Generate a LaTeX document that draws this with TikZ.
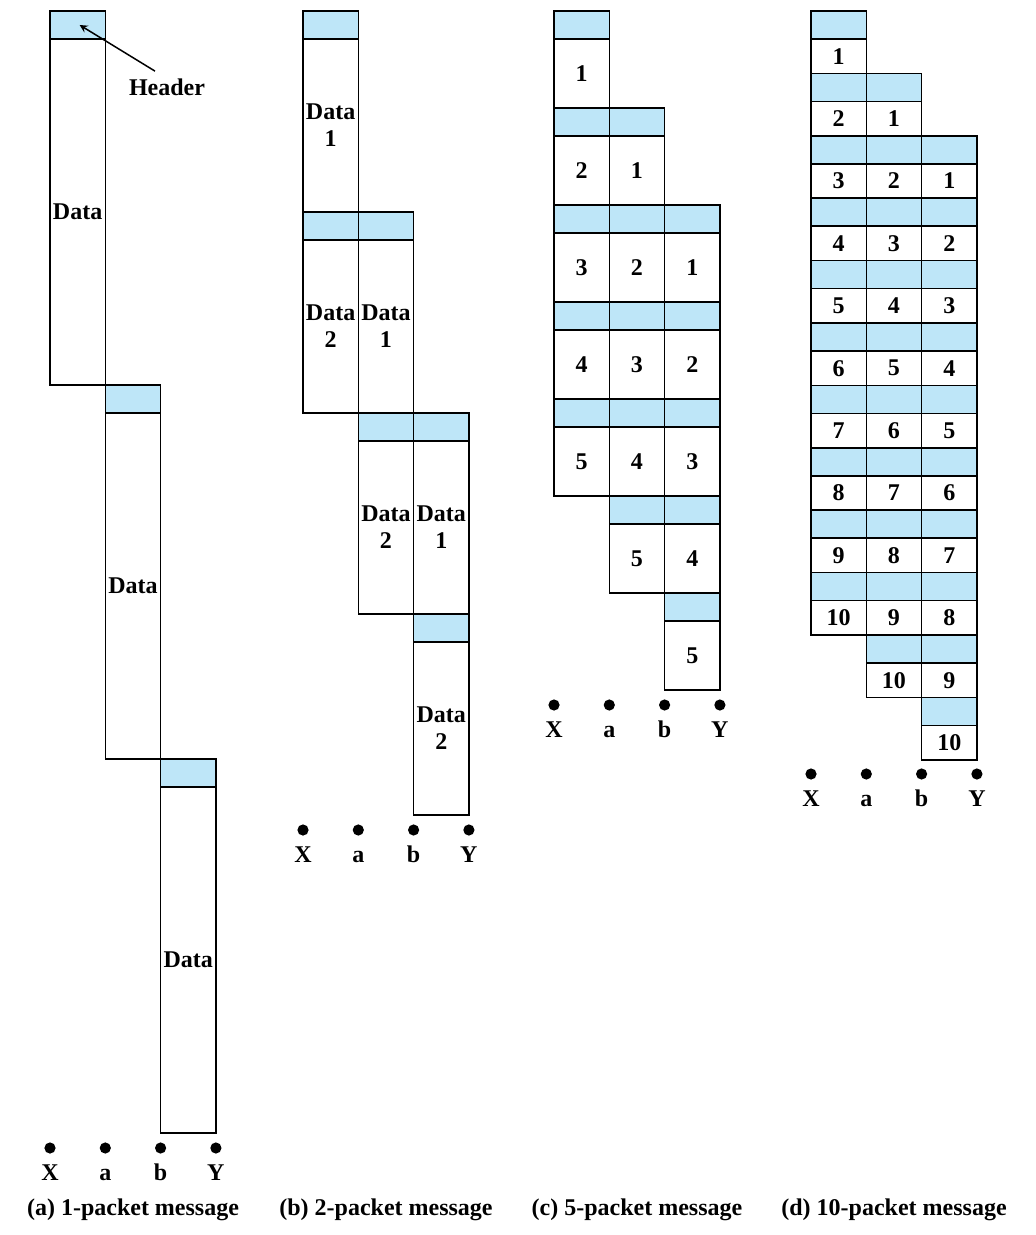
\documentclass[tikz,border=0pt]{standalone}
\usepackage{fontspec}
\setmainfont{Liberation Serif}
\usetikzlibrary{positioning}
\definecolor{hdrblue}{HTML}{BEE6F8}

\newcommand\hosts[3]{%
  \foreach \n [count=\i from 0] in {X,a,b,Y} {
    \node[host] (#1-\n) at ({#2+55.3*\i},#3) {};
    \node[hostlbl, below=4.5pt of #1-\n] {\n};
  }%
}

\begin{document}
\begin{tikzpicture}[x=0.5pt, y=-0.5pt, >=stealth, line width=0.75pt,
  every node/.style={font=\bfseries\fontsize{12}{13.5}\selectfont},
  hdr/.style={draw, fill=hdrblue, anchor=north west, minimum width=27.65pt,
    minimum height=14pt, inner sep=0pt, outer sep=0pt},
  cell/.style={draw, anchor=north west, minimum width=27.65pt,
    inner sep=0pt, outer sep=0pt, align=center},
  host/.style={circle, fill=black, inner sep=0pt, minimum size=5.6pt},
  hostlbl/.style={inner sep=0pt, text height=8pt, text depth=0pt}]
  \useasboundingbox (0,0) rectangle (1035,1235);

  % (a) 1-packet message
  \foreach \t in {0,1,2} {
    \node[hdr] (a-h\t) at ({50+55.3*\t},{11+374*\t}) {};
    \node[cell, minimum height=173pt] (a-d\t) at (a-h\t.south west) {Data};
  }
  \node (hdrlbl) at (167,87) {Header};
  \draw[->] ([xshift=-6pt]hdrlbl.north) -- ([xshift=1pt]a-h0.center);
  \hosts{a}{50}{1148}
  \node (capa) at (133,1210) {(a) 1-packet message};

  % (b) 2-packet message
  \foreach \t in {0,...,3} {
    \foreach \c in {0,1,2} {
      \pgfmathtruncatemacro\k{\t-\c+1}
      \ifnum\k>0 \ifnum\k<3
        \node[hdr] (b-h\t-\c) at ({303+55.3*\c},{11+201*\t}) {};
        \node[cell, minimum height=86.5pt] (b-d\t-\c) at (b-h\t-\c.south west) {Data\\\k};
      \fi\fi
    }
  }
  \hosts{b}{303}{830}
  \node (capb) at (386,1210) {(b) 2-packet message};

  % (c) 5-packet message
  \foreach \t in {0,...,6} {
    \foreach \c in {0,1,2} {
      \pgfmathtruncatemacro\k{\t-\c+1}
      \ifnum\k>0 \ifnum\k<6
        \node[hdr] (c-h\t-\c) at ({554+55.3*\c},{11+97*\t}) {};
        \node[cell, minimum height=34.5pt] (c-d\t-\c) at (c-h\t-\c.south west) {\k};
      \fi\fi
    }
  }
  \hosts{c}{554}{705}
  \node (capc) at (637,1210) {(c) 5-packet message};

  % (d) 10-packet message
  \foreach \t in {0,...,11} {
    \foreach \c in {0,1,2} {
      \pgfmathtruncatemacro\k{\t-\c+1}
      \ifnum\k>0 \ifnum\k<11
        \node[hdr] (d-h\t-\c) at ({811+55.3*\c},{11+62.4*\t}) {};
        \node[cell, minimum height=17.2pt] (d-d\t-\c) at (d-h\t-\c.south west) {\k};
      \fi\fi
    }
  }
  \hosts{d}{811}{774}
  \node (capd) at (894,1210) {(d) 10-packet message};
\end{tikzpicture}
\end{document}
